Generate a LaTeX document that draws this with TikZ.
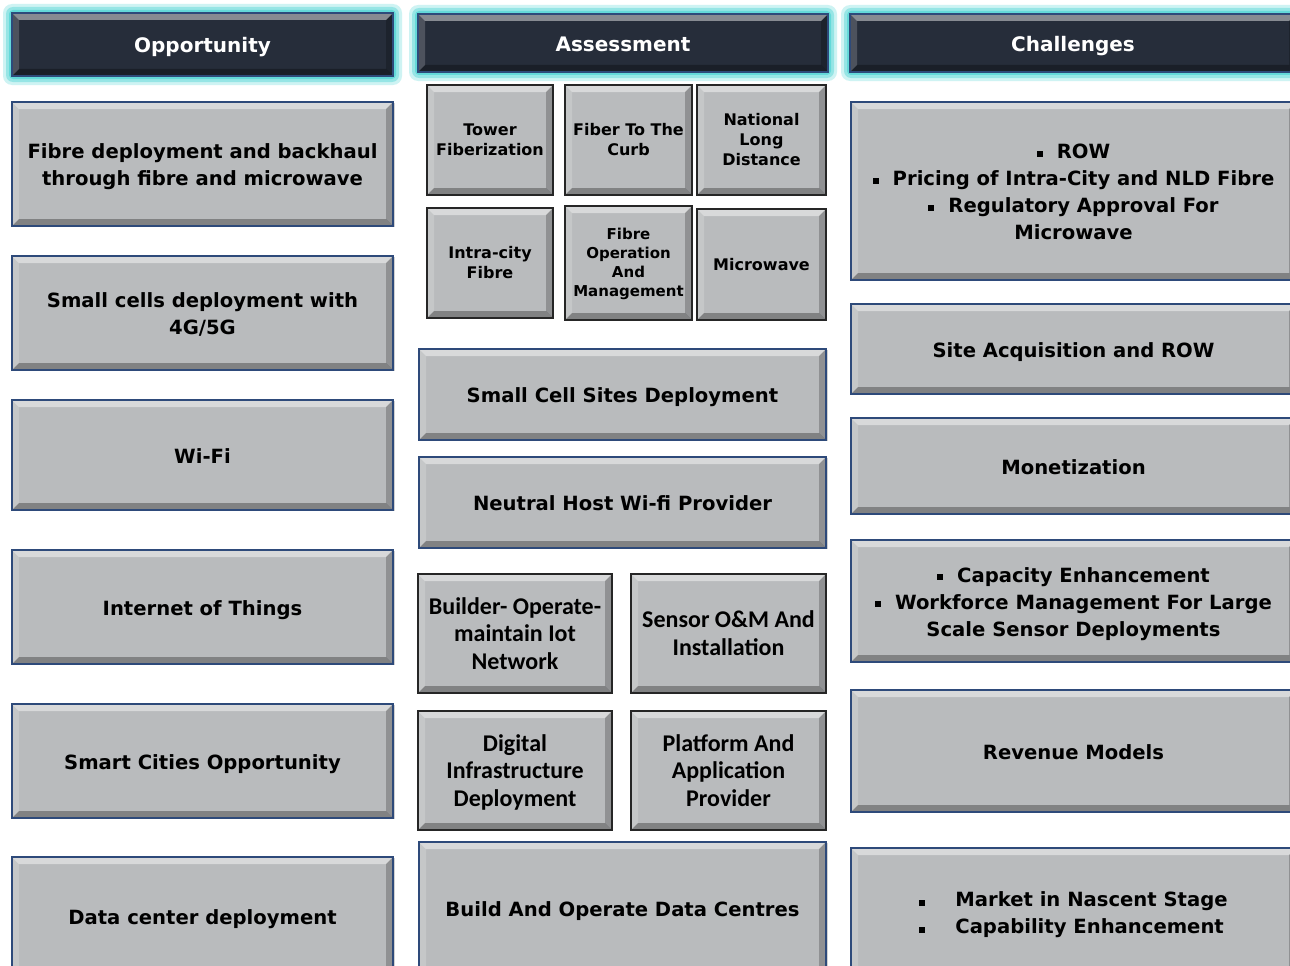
\documentclass[tikz,border=0pt]{standalone}
\usepackage{fontspec}
\newfontfamily\vfont{DejaVu Sans}
\newfontfamily\cfont{Carlito}
\usetikzlibrary{shadows}
\definecolor{boxgray}{HTML}{B9BBBD}
\definecolor{hdrdark}{HTML}{262D3A}
\definecolor{borderblue}{HTML}{2E4A7A}
\definecolor{glowcyan}{HTML}{5FD8D8}
\def\bv{7pt}
\def\tdrop{0pt}
\tikzset{
  base/.style={rectangle, inner sep=0pt, text=black, fill=boxgray, line width=1.2pt,
    font=\vfont\bfseries\fontsize{19.6}{27}\selectfont, execute at begin node={\def\tdrop{3pt}}},
  bevel/.style={path picture={
    \fill[white,opacity=.45] (path picture bounding box.north west) -- (path picture bounding box.north east)
      -- ([shift={(-\bv,-\bv)}]path picture bounding box.north east) -- ([shift={(\bv,-\bv)}]path picture bounding box.north west) -- cycle;
    \fill[white,opacity=.18] (path picture bounding box.north west) -- (path picture bounding box.south west)
      -- ([shift={(\bv,\bv)}]path picture bounding box.south west) -- ([shift={(\bv,-\bv)}]path picture bounding box.north west) -- cycle;
    \fill[black,opacity=.22] (path picture bounding box.north east) -- (path picture bounding box.south east)
      -- ([shift={(-\bv,\bv)}]path picture bounding box.south east) -- ([shift={(-\bv,-\bv)}]path picture bounding box.north east) -- cycle;
    \fill[black,opacity=.3] (path picture bounding box.south west) -- (path picture bounding box.south east)
      -- ([shift={(-\bv,\bv)}]path picture bounding box.south east) -- ([shift={(\bv,\bv)}]path picture bounding box.south west) -- cycle;
  }},
  gbox/.style={base, bevel, draw=borderblue, drop shadow={shadow xshift=2pt, shadow yshift=-1pt, opacity=.35}},
  kbox/.style={base, bevel, draw=black!85, execute at begin node={\def\tdrop{1.5pt}}},
  sbox/.style={kbox, font=\vfont\bfseries\fontsize{16}{20}\selectfont},
  tbox/.style={kbox, font=\vfont\bfseries\fontsize{15}{19}\selectfont},
  cbox/.style={kbox, font=\cfont\bfseries\fontsize{24}{27.5}\selectfont, execute at begin node={\def\tdrop{2.5pt}}},
  hdr/.style={base, bevel, fill=hdrdark, draw=borderblue, text=white,
    font=\vfont\bfseries\fontsize{20}{24}\selectfont, execute at begin node={\def\tdrop{3.5pt}}},
}
\newcommand\bx[7][gbox]{\node[#1, minimum width={#5-#3}, minimum height={#6-#4}] (#2) at ({(#3+#5)/2},{(#4+#6)/2})
  {\raisebox{-\tdrop}[\height][\depth]{\begin{tabular}{@{}c@{}}#7\end{tabular}}};}
\newcommand\glow[4]{%
  \fill[glowcyan,opacity=.3,rounded corners=9pt] (#1-9,#2-9) rectangle (#3+9,#4+9);
  \fill[glowcyan,opacity=.5,rounded corners=7pt] (#1-6,#2-6) rectangle (#3+6,#4+6);
  \fill[glowcyan,opacity=.9,rounded corners=4pt] (#1-3,#2-3) rectangle (#3+3,#4+3);}
\newcommand\bul{\ensuremath{\vcenter{\hbox{\rule{6pt}{6pt}}}}\hspace{14pt}}
\begin{document}
\begin{tikzpicture}[x=1pt,y=-1pt]
\useasboundingbox (0,0) rectangle (1290,966);
\clip (0,0) rectangle (1290,966);
\fill[white] (0,0) rectangle (1290,966);
% headers
\glow{12}{13}{393}{76}
\glow{418}{14}{828}{72}
\glow{850}{14}{1300}{72}
\bx[hdr]{hOpp}{12}{13}{393}{76}{Opportunity}
\bx[hdr]{hAss}{418}{14}{828}{72}{Assessment}
\bx[hdr]{hCha}{850}{14}{1296}{72}{Challenges}
% opportunity column
\bx{o1}{12}{102}{393}{226}{Fibre deployment and backhaul\\through fibre and microwave}
\bx{o2}{12}{256}{393}{370}{Small cells deployment with\\4G/5G}
\bx{o3}{12}{400}{393}{510}{Wi-Fi}
\bx{o4}{12}{550}{393}{664}{Internet of Things}
\bx{o5}{12}{704}{393}{818}{Smart Cities Opportunity}
\bx{o6}{12}{857}{393}{975}{Data center deployment}
% assessment column
\bx[sbox]{a1}{427}{85}{553}{195}{Tower\\Fiberization}
\bx[sbox]{a2}{565}{85}{692}{195}{Fiber To The\\Curb}
\bx[sbox]{a3}{697}{85}{826}{195}{National\\Long\\Distance}
\bx[sbox]{a4}{427}{208}{553}{318}{Intra-city\\Fibre}
\bx[tbox]{a5}{565}{206}{692}{320}{Fibre\\Operation\\And\\Management}
\bx[sbox]{a6}{697}{209}{826}{320}{Microwave}
\bx{a7}{419}{349}{826}{440}{Small Cell Sites Deployment}
\bx{a8}{419}{457}{826}{548}{Neutral Host Wi-fi Provider}
\bx[cbox]{a9}{418}{574}{612}{693}{Builder- Operate-\\maintain Iot\\Network}
\bx[cbox]{a10}{631}{574}{826}{693}{Sensor O\&M And\\Installation}
\bx[cbox]{a11}{418}{711}{612}{830}{Digital\\Infrastructure\\Deployment}
\bx[cbox]{a12}{631}{711}{826}{830}{Platform And\\Application\\Provider}
\bx{a13}{419}{842}{826}{975}{Build And Operate Data Centres}
% challenges column
\bx{c1}{851}{102}{1296}{280}{\bul ROW\\\bul Pricing of Intra-City and NLD Fibre\\\bul Regulatory Approval For\\Microwave}
\bx{c2}{851}{304}{1296}{394}{Site Acquisition and ROW}
\bx{c3}{851}{418}{1296}{514}{Monetization}
\bx{c4}{851}{540}{1296}{662}{\bul Capacity Enhancement\\\bul Workforce Management For Large\\Scale Sensor Deployments}
\bx{c5}{851}{690}{1296}{812}{Revenue Models}
\bx{c6}{851}{848}{1296}{975}{\begin{tabular}{@{}l@{\hspace{30pt}}l@{}}\rule{6pt}{6pt} & Market in Nascent Stage\\ \rule{6pt}{6pt} & Capability Enhancement\end{tabular}}
\end{tikzpicture}
\end{document}
